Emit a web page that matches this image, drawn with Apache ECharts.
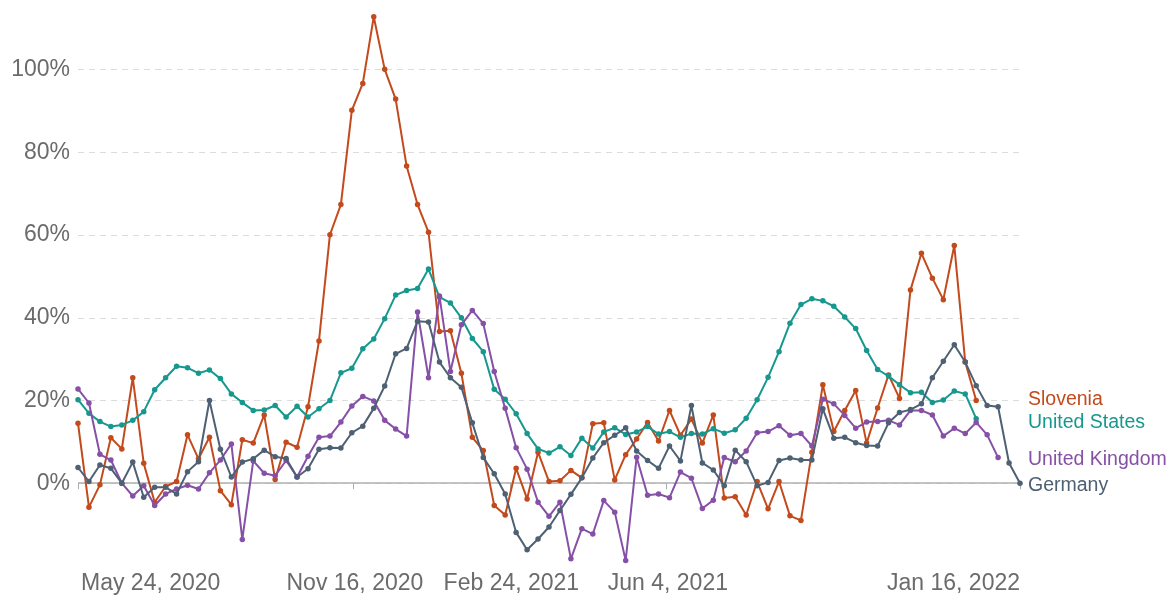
<!DOCTYPE html>
<html>
<head>
<meta charset="utf-8">
<script src="https://cdn.jsdelivr.net/npm/echarts@6/dist/echarts.min.js"></script>
<style>
html,body{margin:0;padding:0;background:#fff;}
#chart{width:1168px;height:595px;}
</style>
</head>
<body>
<div id="chart"></div>
<script>
// Weekly dates starting May 24, 2020
const startDate = [2020, 4, 24];
const weekCount = 87;
const tickDates = [[2020,4,24],[2020,10,16],[2021,1,24],[2021,5,4],[2022,0,16]];
const yTicks = [0, 20, 40, 60, 80, 100];
const seriesNames = ['Slovenia', 'United States', 'United Kingdom', 'Germany'];

const slovenia = [14.5,-5.8,-0.4,11.0,8.3,25.5,4.8,-4.6,-0.8,0.4,11.7,5.9,11.1,-1.8,-5.2,10.5,9.7,16.5,0.9,9.9,
  8.7,18.5,34.4,60.1,67.4,90.2,96.7,112.8,100.1,92.9,76.7,67.4,60.7,36.7,36.9,26.6,11.1,7.9,-5.4,-7.7,
  3.6,-3.8,7.5,0.4,0.6,3.1,1.3,14.4,14.6,0.8,6.9,10.7,14.7,10.2,17.6,11.6,15.5,9.7,16.5,-3.6,
  -3.3,-7.7,0.4,-6.2,0.4,-7.9,-9.0,7.5,23.8,12.5,17.6,22.4,9.7,18.2,26.2,20.5,46.7,55.6,49.6,44.4,
  57.5,29.3,20.0];
const unitedStates = [20.2,16.9,14.9,13.7,14.1,15.2,17.3,22.6,25.5,28.3,27.9,26.6,27.4,25.3,21.6,19.5,17.6,17.7,18.8,16.0,
  18.6,16.0,18.0,20.0,26.7,27.8,32.5,34.9,39.8,45.5,46.6,47.1,51.8,45.0,43.6,40.0,35.0,31.8,22.7,20.3,
  16.8,12.0,8.3,7.3,8.8,6.7,10.9,8.5,12.4,13.4,11.8,12.4,13.7,11.9,12.5,11.1,12.0,11.9,13.2,12.1,
  12.9,15.7,20.2,25.6,31.8,38.7,43.2,44.6,44.1,42.8,40.2,37.4,32.1,27.5,25.9,23.8,21.9,22.0,19.5,20.1,
  22.3,21.6,15.6];
const unitedKingdom = [22.8,19.4,7.0,5.6,0.0,-3.1,-0.6,-5.4,-2.6,-1.4,-0.5,-1.4,2.5,5.6,9.5,-13.6,5.4,2.4,1.8,5.5,
  1.5,6.5,11.1,11.4,14.8,18.7,21.0,19.9,15.2,13.1,11.4,41.4,25.5,45.3,27.0,38.3,41.8,38.6,27.0,18.1,
  8.6,3.4,-4.6,-8.0,-4.6,-18.3,-11.0,-12.3,-4.2,-7.0,-18.7,6.3,-2.9,-2.6,-3.5,2.7,1.2,-6.1,-4.1,6.2,
  5.2,7.8,12.2,12.5,13.9,11.6,12.0,9.0,20.3,19.2,16.4,13.3,14.8,14.9,15.2,14.1,17.6,17.6,16.5,11.4,
  13.3,12.0,14.7,11.7,6.2];
const germany = [3.8,0.4,4.4,3.6,0.0,5.1,-3.4,-1.0,-1.0,-2.6,2.8,5.2,20.0,8.2,1.5,5.1,5.9,8.0,6.4,6.0,
  1.5,3.5,8.2,8.6,8.5,12.2,13.8,18.1,23.5,31.3,32.6,39.2,39.0,29.3,25.5,23.2,14.6,6.2,2.3,-2.6,
  -11.9,-16.1,-13.5,-10.6,-6.6,-2.7,1.3,6.1,9.8,11.6,13.4,7.8,5.5,3.6,9.0,5.4,18.8,4.9,3.2,-0.6,
  8.0,5.2,-0.6,0.2,5.5,6.1,5.6,5.6,18.0,10.9,11.1,9.8,9.1,9.0,14.6,17.1,17.8,19.2,25.5,29.5,
  33.5,29.3,23.6,18.8,18.5,4.9,0.0];

const colors = ['#c24a1c', '#17988f', '#8550a6', '#4e6073'];
const valuesList = [slovenia, unitedStates, unitedKingdom, germany];

const dates = [];
for (let i = 0; i < weekCount; i++) {
  dates.push(new Date(startDate[0], startDate[1], startDate[2] + 7 * i).getTime());
}
const tickValues = tickDates.map(d => new Date(d[0], d[1], d[2]).getTime());
const monthNames = ['Jan','Feb','Mar','Apr','May','Jun','Jul','Aug','Sep','Oct','Nov','Dec'];

const chart = echarts.init(document.getElementById('chart'), null, {renderer: 'canvas'});

const series = seriesNames.map((name, k) => ({
  name: name,
  type: 'line',
  data: valuesList[k].map((v, i) => [dates[i], v]),
  symbol: 'circle',
  symbolSize: 5.5,
  showSymbol: true,
  lineStyle: {width: 2, color: colors[k]},
  itemStyle: {color: colors[k]},
  z: 3 + k,
  animation: false,
  markLine: k === 0 ? {
    silent: true,
    symbol: 'none',
    label: {show: false},
    lineStyle: {type: 'solid', color: '#b0b0b0', width: 1.5},
    data: [{yAxis: 0}],
    z: 1
  } : undefined
}));

const labelFont = "'Liberation Sans', Arial, sans-serif";
const legendFont = "19.5px 'Liberation Sans', Arial, sans-serif";

chart.setOption({
  animation: false,
  grid: {left: 78, right: 148, top: 16, bottom: 31, containLabel: false},
  xAxis: {
    type: 'value',
    min: dates[0],
    max: dates[dates.length - 1],
    axisLine: {show: false},
    axisTick: {show: true, length: 6, lineStyle: {color: '#aaa', width: 1}, customValues: tickValues},
    splitLine: {show: false},
    axisLabel: {
      customValues: tickValues,
      fontFamily: labelFont,
      fontSize: 23,
      color: '#6b6b6b',
      margin: 9,
      alignMinLabel: 'left',
      alignMaxLabel: 'right',
      padding: [0, 0, 0, 3],
      formatter: function (v) {
        const d = new Date(v);
        return monthNames[d.getMonth()] + ' ' + d.getDate() + ', ' + d.getFullYear();
      }
    }
  },
  yAxis: {
    type: 'value',
    min: -19.3,
    max: 113,
    axisLine: {show: false},
    axisTick: {show: false, customValues: yTicks},
    axisLabel: {
      customValues: yTicks,
      fontFamily: labelFont,
      fontSize: 23,
      color: '#6b6b6b',
      margin: 8,
      formatter: v => v + '%'
    },
    splitLine: {show: true, lineStyle: {type: [6, 5], color: '#dcdcdc', width: 1}}
  },
  graphic: [
    {type: 'text', left: 1028, top: 390, style: {text: 'Slovenia', fill: colors[0], font: legendFont}},
    {type: 'text', left: 1028, top: 413, style: {text: 'United States', fill: colors[1], font: legendFont}},
    {type: 'text', left: 1028, top: 450, style: {text: 'United Kingdom', fill: colors[2], font: legendFont}},
    {type: 'text', left: 1028, top: 476, style: {text: 'Germany', fill: colors[3], font: legendFont}}
  ],
  series: series
});
</script>
</body>
</html>
